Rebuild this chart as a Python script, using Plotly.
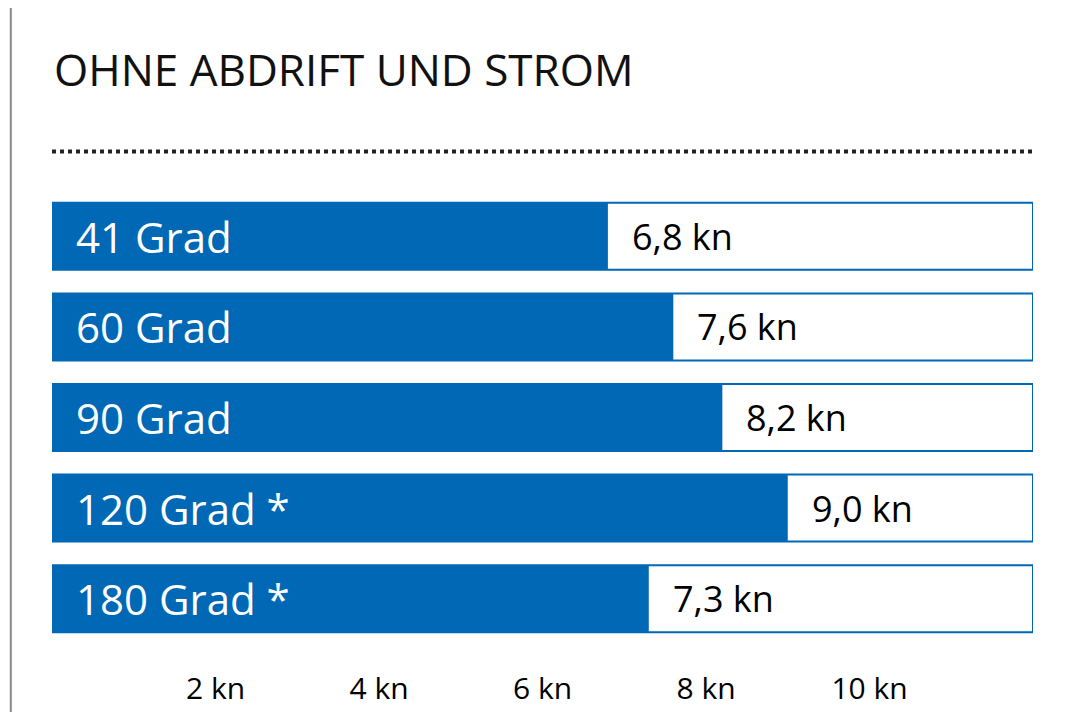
import plotly.graph_objects as go

categories = ["41 Grad", "60 Grad", "90 Grad", "120 Grad*", "180 Grad*"]
values = [6.8, 7.6, 8.2, 9.0, 7.3]
value_labels = ["6,8 kn", "7,6 kn", "8,2 kn", "9,0 kn", "7,3 kn"]
tick_vals = [2, 4, 6, 8, 10]
tick_text = ["2 kn", "4 kn", "6 kn", "8 kn", "10 kn"]
xmax = 12
blue = "#0068b4"

ypos = list(range(len(categories)))
fig = go.Figure()
fig.add_trace(go.Bar(y=ypos, x=[xmax]*len(values), orientation="h", width=0.74,
                     marker=dict(color="white", line=dict(color=blue, width=2)), hoverinfo="skip"))
fig.add_trace(go.Bar(y=ypos, x=values, orientation="h", width=0.74,
                     marker=dict(color=blue, line=dict(width=0)), hoverinfo="skip"))
for i, (c, v, t) in enumerate(zip(categories, values, value_labels)):
    fig.add_annotation(x=0, y=i, text=c.replace("*", " *"), showarrow=False, xanchor="left", xshift=22,
                       font=dict(color="white", size=42, family="Open Sans"))
    fig.add_annotation(x=v, y=i, text=t, showarrow=False, xanchor="left", xshift=22,
                       font=dict(color="black", size=36, family="Open Sans"))
fig.add_annotation(xref="paper", yref="paper", x=0, y=1.27, text="OHNE ABDRIFT UND STROM", showarrow=False,
                   xanchor="left", yanchor="middle", font=dict(size=44, family="Open Sans", color="#111"))
fig.add_shape(type="line", xref="paper", yref="paper", x0=0, x1=1, y0=1.087, y1=1.087,
              line=dict(color="#222", width=4, dash="dot"))
fig.add_shape(type="line", xref="paper", yref="paper", x0=-0.042, x1=-0.042, y0=-0.2, y1=1.5,
              line=dict(color="#888", width=2))
fig.update_layout(
    width=1068, height=712, barmode="overlay", showlegend=False,
    paper_bgcolor="white", plot_bgcolor="white",
    margin=dict(l=44, r=43, t=183, b=67),
    xaxis=dict(range=[0, xmax], tickvals=tick_vals, ticktext=tick_text, showgrid=False, zeroline=False,
               ticks="outside", ticklen=18, tickcolor="white",
               tickfont=dict(size=30, family="Open Sans", color="black")),
    yaxis=dict(range=[len(categories)-0.5, -0.5], showticklabels=False, showgrid=False, zeroline=False),
)
fig.write_html("out.html")
